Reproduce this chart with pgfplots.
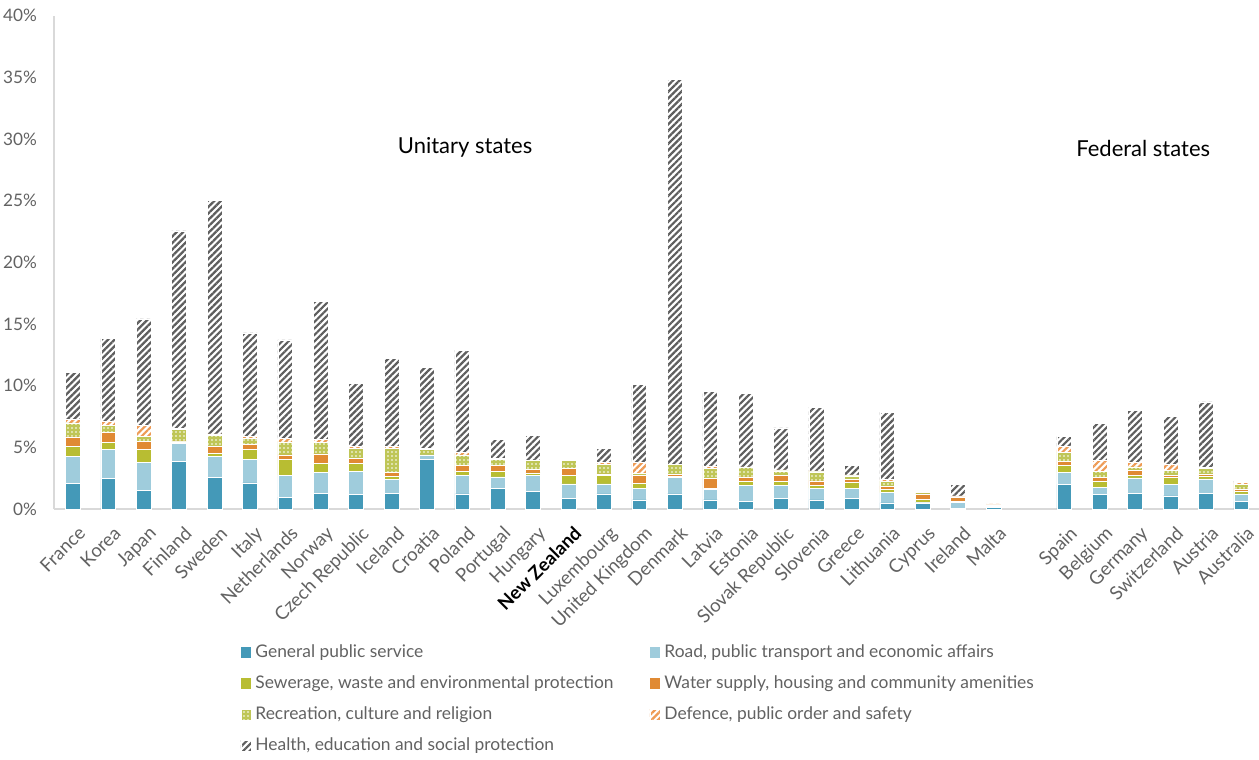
\documentclass[border=0pt]{standalone}
\usepackage{pgfplots}
\pgfplotsset{compat=1.18}
\usepackage{pgfplotstable}
\usetikzlibrary{patterns.meta}
\usepackage{fontspec}
\setmainfont{Lato}
\definecolor{cGPS}{HTML}{4499B8}
\definecolor{cRoad}{HTML}{9FCCDC}
\definecolor{cSew}{HTML}{B8BD32}
\definecolor{cWat}{HTML}{E08A34}
\definecolor{cRec}{HTML}{BFC657}
\definecolor{cDef}{HTML}{EE9B55}
\definecolor{cHea}{HTML}{5E5E5E}
\definecolor{txt}{HTML}{626262}
\definecolor{axl}{HTML}{D9D9D9}

\pgfplotstableread{
x gps road sew wat rec def hea
0 2.10 2.15 0.82 0.77 1.15 0.27 3.84
1 2.49 2.36 0.55 0.82 0.57 0.33 6.72
2 1.53 2.25 1.04 0.66 0.41 0.88 8.65
3 3.86 1.46 0.13 0.08 0.91 0.11 16.00
4 2.58 1.67 0.24 0.58 0.88 0.13 18.93
5 2.11 1.92 0.82 0.41 0.44 0.19 8.38
6 0.96 1.78 1.29 0.35 1.07 0.25 8.00
7 1.26 1.73 0.71 0.77 0.93 0.22 11.23
8 1.21 1.86 0.63 0.41 0.82 0.14 5.12
9 1.26 1.12 0.28 0.30 1.97 0.14 7.12
10 4.03 0.35 0.00 0.00 0.47 0.08 6.52
11 1.23 1.51 0.33 0.44 0.87 0.20 8.30
12 1.67 0.93 0.47 0.44 0.52 0.08 1.51
13 1.45 1.29 0.19 0.28 0.71 0.05 2.00
14 0.88 1.15 0.71 0.58 0.60 0.13 0.00
15 1.23 0.80 0.71 0.11 0.79 0.11 1.18
16 0.74 0.96 0.35 0.69 0.14 0.87 6.33
17 1.23 1.32 0.11 0.16 0.77 0.05 31.21
18 0.74 0.85 0.11 0.79 0.80 0.19 6.03
19 0.63 1.29 0.33 0.35 0.77 0.05 5.95
20 0.85 1.07 0.33 0.49 0.36 0.08 3.40
21 0.74 0.96 0.22 0.35 0.74 0.09 5.12
22 0.88 0.82 0.44 0.24 0.30 0.09 0.74
23 0.49 0.83 0.27 0.27 0.39 0.13 5.48
24 0.49 0.06 0.24 0.44 0.14 0.05 0.00
25 0.08 0.47 0.08 0.36 0.05 0.03 0.93
26 0.14 0.08 0.05 0.06 0.05 0.03 0.00
28 2.00 0.96 0.55 0.38 0.71 0.47 0.79
29 1.21 0.57 0.49 0.28 0.52 0.90 2.99
30 1.29 1.23 0.22 0.41 0.27 0.36 4.19
31 1.07 0.93 0.55 0.19 0.41 0.47 3.86
32 1.29 1.15 0.24 0.11 0.50 0.08 5.31
33 0.60 0.63 0.22 0.19 0.36 0.14 0.11
}\data

\begin{document}
\begin{tikzpicture}
\path[use as bounding box] (-27pt,-125.5pt) rectangle (602.5pt,254.5pt);
\begin{axis}[
  at={(0,0)}, anchor=south west,
  scale only axis, width=602.5pt, height=246.75pt,
  ybar stacked, bar width=7.4pt,
  xmin=-0.53, xmax=33.5, ymin=0, ymax=40,
  axis x line*=bottom, axis y line*=left,
  axis line style={axl, line width=0.9pt},
  major tick length=0pt,
  ytick={0,5,...,40},
  yticklabels={0\%,5\%,10\%,15\%,20\%,25\%,30\%,35\%,40\%},
  xtick={0,1,...,26,28,29,30,31,32,33},
  xticklabels={France,Korea,Japan,Finland,Sweden,Italy,Netherlands,Norway,Czech Republic,Iceland,Croatia,Poland,Portugal,Hungary,{\color{black}\bfseries New Zealand},Luxembourg,United Kingdom,Denmark,Latvia,Estonia,Slovak Republic,Slovenia,Greece,Lithuania,Cyprus,Ireland,Malta,Spain,Belgium,Germany,Switzerland,Austria,Australia},
  tick label style={text=txt},
  yticklabel style={xshift=-5pt, font=\fontsize{8.6}{10}\selectfont},
  xticklabel style={rotate=45, anchor=north east, inner sep=1pt, xshift=-3pt, yshift=-6pt, font=\fontsize{9.3}{11}\selectfont},
  legend columns=2,
  legend cell align=left,
  legend style={draw=none, at={(0.1495,-0.258)}, anchor=north west,
    font=\fontsize{8.7}{10}\selectfont, text=txt,
    /tikz/every even column/.append style={column sep=16pt},
    row sep=3.6pt},
  legend image code/.code={\path[#1, draw=none] (0pt,-2.6pt) rectangle (5.2pt,2.6pt);},
]
\addplot[fill=cGPS, draw=white, line width=0.25pt] table[x=x,y=gps]{\data};
\addlegendentry{General public service}
\addplot[fill=cRoad, draw=white, line width=0.25pt] table[x=x,y=road]{\data};
\addlegendentry{Road, public transport and economic affairs}
\addplot[fill=cSew, draw=white, line width=0.25pt] table[x=x,y=sew]{\data};
\addlegendentry{Sewerage, waste and environmental protection}
\addplot[fill=cWat, draw=white, line width=0.25pt] table[x=x,y=wat]{\data};
\addlegendentry{Water supply, housing and community amenities}
\addplot[fill=cRec, draw=white, line width=0.25pt, postaction={pattern={Dots[radius=0.45pt,distance=2pt]}, pattern color=white}] table[x=x,y=rec]{\data};
\addlegendentry{Recreation, culture and religion}
\addplot[fill=white, draw=white, line width=0.25pt, postaction={pattern={Lines[angle=45,distance=2.3pt,line width=1.1pt]}, pattern color=cDef}] table[x=x,y=def]{\data};
\addlegendentry{Defence, public order and safety}
\addplot[fill=white, draw=white, line width=0.25pt, postaction={pattern={Lines[angle=45,distance=2.3pt,line width=1.1pt]}, pattern color=cHea}] table[x=x,y=hea]{\data};
\addlegendentry{Health, education and social protection}
\node[font=\fontsize{11}{13}\selectfont, text=black] at (axis cs:11.08,29.3) {Unitary states};
\node[font=\fontsize{11}{13}\selectfont, text=black] at (axis cs:30.23,29.2) {Federal states};
\end{axis}
\end{tikzpicture}
\end{document}
